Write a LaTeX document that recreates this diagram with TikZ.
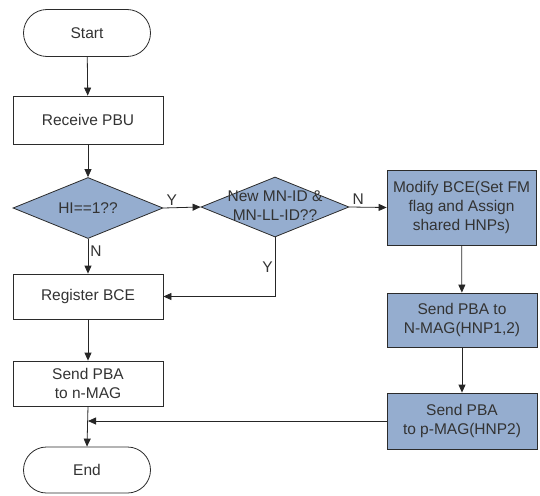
\documentclass[tikz,border=0pt]{standalone}
\usepackage{fontspec}
\setmainfont{Liberation Sans}
\usetikzlibrary{shapes.geometric,shapes.misc,arrows.meta}
\definecolor{boxblue}{RGB}{149,173,207}
\definecolor{ink}{RGB}{51,51,51}
\tikzset{
    flow/.style={draw=ink!85!black, line width=0.8pt, text=ink, align=center, inner sep=0pt},
    terminal/.style={flow, rounded rectangle, minimum width=127pt, minimum height=47pt},
    process/.style={flow, rectangle, minimum width=150pt},
    shaded/.style={process, fill=boxblue},
    decision/.style={flow, diamond, fill=boxblue},
    link/.style={draw=black!85, line width=0.8pt, -{Triangle[length=8pt,width=7pt]}},
    yn/.style={text=ink, inner sep=2pt}
}
\begin{document}
\begin{tikzpicture}[x=1pt,y=-1pt,font=\fontsize{15.5}{19}\selectfont]
            \useasboundingbox (0,0) rectangle (540,495);
            \node[terminal] (start) at (87,33) {Start};
            \node[process,minimum height=48pt] (recv) at (88,120) {Receive PBU};
            \node[decision,minimum width=150pt,minimum height=61pt] (hi) at (88,208) {\makebox[0pt]{HI==1??}};
            \node[decision,minimum width=148pt,minimum height=60pt] (newid) at (275,207)
                {\makebox[0pt]{\begin{tabular}{@{}c@{}}New MN-ID \&\\MN-LL-ID??\end{tabular}}};
            \node[shaded,minimum width=149pt,minimum height=75pt] (modify) at (461.5,207.5) {Modify BCE(Set FM\\flag and Assign\\shared HNPs)};
            \node[process,minimum height=45pt] (reg) at (88,296.5) {Register BCE};
            \node[process,minimum height=45pt] (sendn) at (88,383.5) {Send PBA\\to n-MAG};
            \node[shaded,minimum height=54pt] (sendN) at (462,320) {Send PBA to\\N-MAG(HNP1,2)};
            \node[shaded,minimum height=56pt] (sendp) at (462,421) {Send PBA\\to p-MAG(HNP2)};
            \node[terminal,minimum height=46pt] (end) at (87,470) {End};
            \coordinate (join) at (sendn.south |- sendp.west);
            % main column
            \draw[link] (start) -- (recv);
            \draw[link] (recv) -- (hi);
            \draw[link] (hi.south) -- node[yn,right,pos=0.35]{N} (reg.north);
            \draw[link] (reg) -- (sendn);
            \draw[link] (sendn.south) -- (end.north);
            % right branch
            \draw[link] (hi.east) -- node[yn,above right,pos=0.02]{Y} (newid.west);
            \draw[link] (newid.east) -- node[yn,above right,pos=0.02]{N} (modify.west);
            \draw[link] (newid.south) |- node[yn,left,pos=0.25]{Y} (reg.east);
            \draw[link] (modify) -- (sendN);
            \draw[link] (sendN) -- (sendp);
            \draw[link] (sendp.west) -- (join);
        \end{tikzpicture}
\end{document}
